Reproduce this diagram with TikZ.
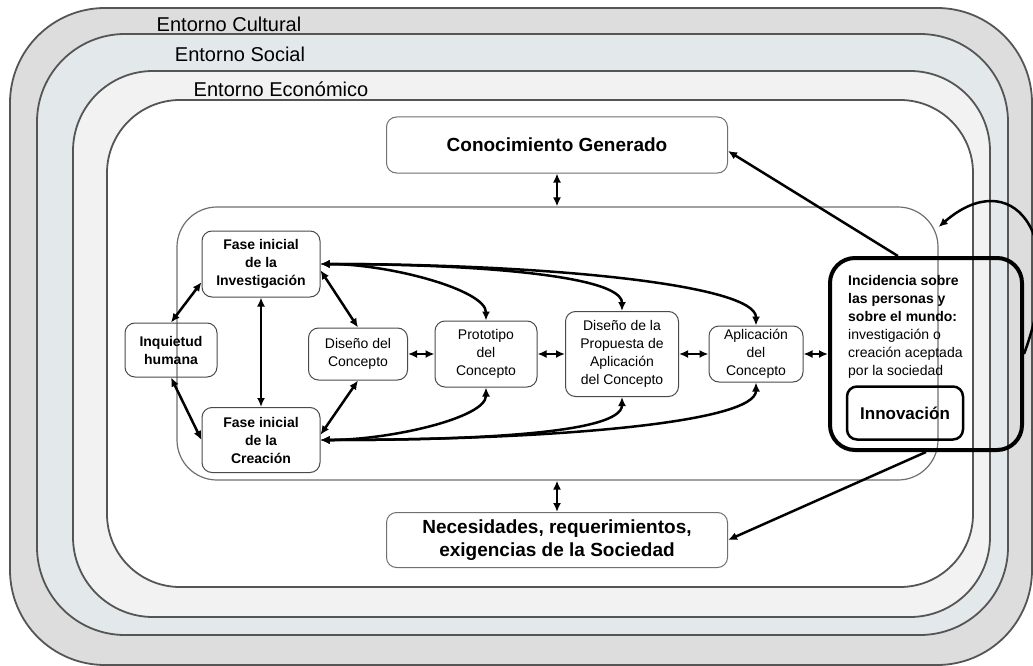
\documentclass[tikz,border=0pt]{standalone}
\usepackage{fontspec}
\setmainfont{Liberation Sans}
\usetikzlibrary{arrows.meta}
\definecolor{cultfill}{HTML}{DDDDDD}
\definecolor{socfill}{HTML}{E3E8EB}
\definecolor{ecofill}{HTML}{F2F2F2}
\definecolor{ringline}{HTML}{555555}
\definecolor{boxline}{HTML}{4A4A4A}
\definecolor{procline}{HTML}{707070}

\begin{document}
\begin{tikzpicture}[x=1pt,y=-1pt,
  ring/.style={draw=ringline,line width=1.8pt},
  envlabel/.style={font=\fontsize{20}{24}\selectfont,inner sep=0pt},
  stage/.style={draw=boxline,line width=1pt,rounded corners=10pt,inner sep=0pt,
    align=center,font=\fontsize{14}{18}\selectfont},
  phase/.style={stage,font=\fontsize{14}{18}\selectfont\bfseries},
  bigbox/.style={draw=procline,line width=1pt,rounded corners=10pt,inner sep=0pt,
    align=center,font=\fontsize{19}{23}\selectfont\bfseries},
  link/.style={line width=2.5pt,{Latex[length=9pt,width=8pt]}-{Latex[length=9pt,width=8pt]}},
  feed/.style={line width=2.5pt,-{Latex[length=9pt,width=8pt]}},
]
\useasboundingbox (0,0) rectangle (1033,666);

% nested environments
\draw[ring,fill=cultfill,rounded corners=95pt] (10,8) rectangle (1032,665);
\draw[ring,fill=socfill,rounded corners=88pt] (37,34) rectangle (1008,635);
\draw[ring,fill=ecofill,rounded corners=80pt] (73,71) rectangle (990,617);
\draw[ring,fill=white,rounded corners=73pt] (107,100) rectangle (973,587);

\node[envlabel] (lcult) at (229,24) {Entorno Cultural};
\node[envlabel] (lsoc) at (240,54) {Entorno Social};
\node[envlabel] (leco) at (281,89) {Entorno Económico};

% process area
\node[draw=procline,line width=1.2pt,rounded corners=40pt,inner sep=0pt,
  minimum width=761pt,minimum height=273pt] (proc) at (557.5,343.5) {};

% outer boxes
\node[bigbox,minimum width=341pt,minimum height=56pt] (conoc) at (557,145)
  {Conocimiento Generado};
\node[bigbox,minimum width=341pt,minimum height=55pt] (neces) at (557,540)
  {Necesidades, requerimientos,\\exigencias de la Sociedad};

% stages
\node[phase,minimum width=92pt,minimum height=54pt] (inq) at (171,350) {Inquietud\\humana};
\node[phase,minimum width=118pt,minimum height=66pt] (finv) at (261,264) {Fase inicial\\de la\\Investigación};
\node[phase,minimum width=118pt,minimum height=65pt] (fcre) at (261,440) {Fase inicial\\de la\\Creación};
\node[stage,minimum width=99pt,minimum height=52pt] (dcon) at (358,354) {Diseño del\\Concepto};
\node[stage,minimum width=102pt,minimum height=66pt] (proto) at (486,354) {Prototipo\\del\\Concepto};
\node[stage,minimum width=113pt,minimum height=85pt] (prop) at (622,354) {Diseño de la\\Propuesta de\\Aplicación\\del Concepto};
\node[stage,minimum width=94pt,minimum height=56pt] (aplic) at (756,354) {Aplicación\\del\\Concepto};

% impact box
\node[draw=black,line width=4pt,rounded corners=25pt,inner sep=0pt,
  minimum width=192pt,minimum height=192pt] (incid) at (926,354) {};
\node[anchor=north west,inner sep=0pt,align=left,font=\fontsize{14}{18}\selectfont]
  (incidtxt) at (848,275)
  {\textbf{Incidencia sobre}\\\textbf{las personas y}\\\textbf{sobre el mundo:}\\
   investigación o\\creación aceptada\\por la sociedad};
\node[draw=black,line width=2.5pt,rounded corners=10pt,inner sep=0pt,
  minimum width=116pt,minimum height=53pt,font=\fontsize{17}{20}\selectfont\bfseries]
  (innov) at (905,413) {Innovación};

% connectors between stages
\draw[link] (inq.north) -- (finv.197);
\draw[link] (inq.south) -- (fcre.west);
\draw[link] (finv.south) -- (fcre.north);
\draw[link] (finv.-6) -- (dcon.north);
\draw[link] (fcre.5) -- (dcon.south);
\draw[link] (dcon.east) -- (proto.west);
\draw[link] (proto.east) -- (prop.west);
\draw[link] (prop.east) -- (aplic.west);
\draw[link] (aplic.east) -- (incid.west);

\draw[link] (finv.east) .. controls (390,264) and (486,290) .. (proto.north);
\draw[link] (finv.east) .. controls (470,264) and (622,275) .. (prop.north);
\draw[link] (finv.east) .. controls (550,264) and (756,285) .. (aplic.north);
\draw[link] (fcre.east) .. controls (390,440) and (486,418) .. (proto.south);
\draw[link] (fcre.east) .. controls (470,440) and (622,434) .. (prop.south);
\draw[link] (fcre.east) .. controls (550,440) and (756,423) .. (aplic.south);

% links to the outer boxes
\draw[link] (conoc.south) -- (conoc.south |- proc.north);
\draw[link] (neces.north) -- (neces.north |- proc.south);
\draw[feed] (incid.106) -- (conoc.-2);
\draw[feed] (incid.south) -- (neces.east);
\draw[feed] (incid.east) .. controls (1070,230) and (1010,165) .. (proc.17);
\end{tikzpicture}
\end{document}
